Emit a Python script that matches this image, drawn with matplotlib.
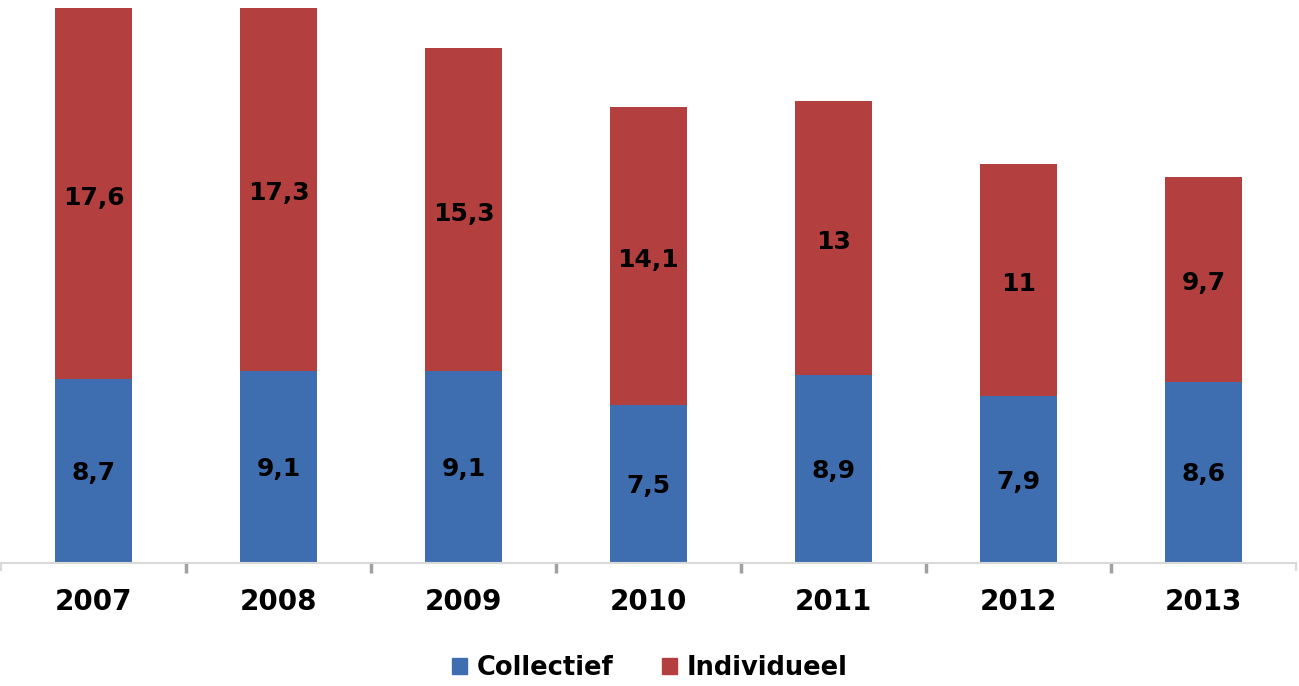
import numpy as np
from matplotlib import pyplot as plt
from matplotlib.patches import Patch

years = ['2007', '2008', '2009', '2010', '2011', '2012', '2013']
collectief = [8.7, 9.1, 9.1, 7.5, 8.9, 7.9, 8.6]
individueel = [17.6, 17.3, 15.3, 14.1, 13.0, 11.0, 9.7]

blue = '#3F6EB0'
red = '#B3403E'

def fmt(v):
    s = ('%.1f' % v).replace('.', ',')
    return s[:-2] if s.endswith(',0') else s

fig = plt.figure(figsize=(12.99, 6.86), dpi=100)
ax = fig.add_axes([1/1299, 1 - 563/686, 1295/1299, 555/686])

x = np.arange(len(years))
w = 0.415
ax.bar(x, collectief, w, color=blue, edgecolor='none')
ax.bar(x, individueel, w, bottom=collectief, color=red, edgecolor='none')

for i in range(len(years)):
    ax.text(x[i], collectief[i] / 2 - 0.1, fmt(collectief[i]), ha='center', va='center',
            fontsize=18, fontweight='bold', color='black')
    ax.text(x[i], collectief[i] + individueel[i] / 2 - 0.2, fmt(individueel[i]),
            ha='center', va='center', fontsize=18, fontweight='bold', color='black')

ax.set_xlim(-0.5, len(years) - 0.5)
ax.set_ylim(0, 26.3)

for s in ['top', 'right', 'left']:
    ax.spines[s].set_visible(False)
ax.spines['bottom'].set_color('#d9d9d9')
ax.spines['bottom'].set_linewidth(1.5)
ax.set_yticks([])

ax.set_xticks(x)
ax.set_xticklabels(years, fontsize=20, fontweight='bold')
ax.tick_params(axis='x', length=0, pad=18)
ax.set_xticks(np.arange(0.5, len(years) - 1), minor=True)
ax.tick_params(axis='x', which='minor', length=7, width=2.5, color='#a0a0a0')
# light ticks at both ends of the axis
for xe in [-0.5, len(years) - 0.5]:
    ax.plot([xe, xe], [0, -0.35], color='#d9d9d9', lw=1.5, clip_on=False)

handles = [Patch(color=blue, label='Collectief'), Patch(color=red, label='Individueel')]
fig.legend(handles=handles, loc='center', bbox_to_anchor=(0.5, 1 - 668/686), ncol=2,
           frameon=False, prop={'size': 18.5, 'weight': 'bold'},
           handlelength=0.6, handleheight=0.6, handletextpad=0.35, columnspacing=1.9)

fig.savefig('out.png', dpi=100)
